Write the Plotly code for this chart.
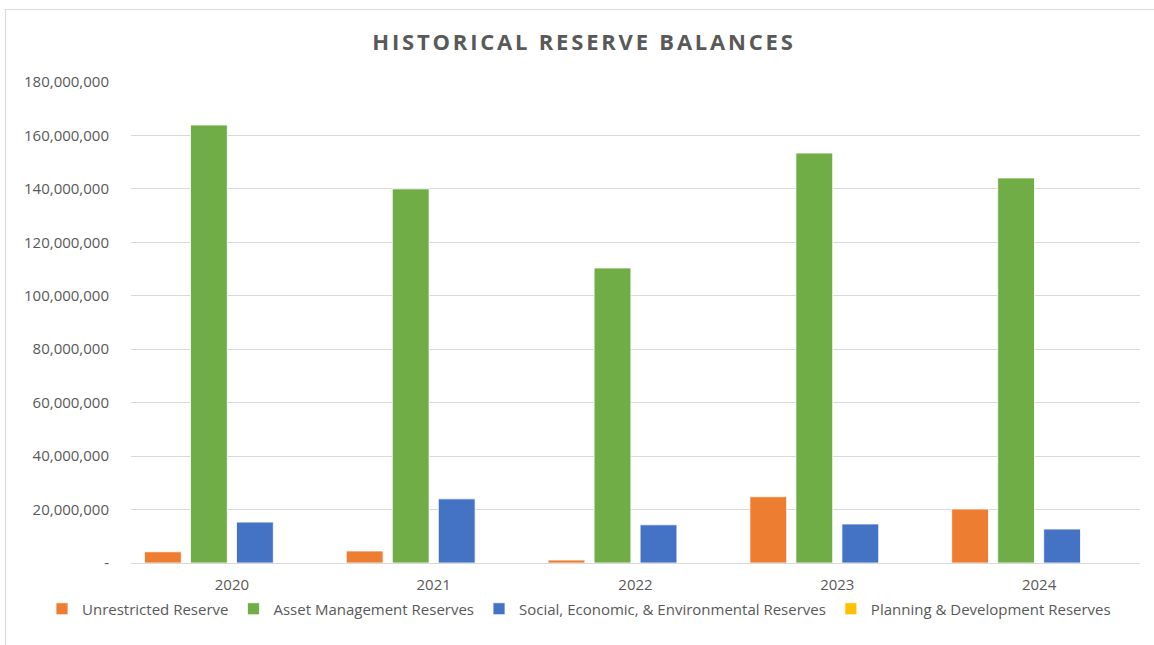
import plotly.graph_objects as go

years = ["2020", "2021", "2022", "2023", "2024"]
unrestricted = [4.2e6, 4.5e6, 1.1e6, 24.8e6, 20.2e6]
asset_mgmt = [163.9e6, 140.0e6, 110.4e6, 153.4e6, 144.1e6]
social_env = [15.3e6, 24.0e6, 14.3e6, 14.6e6, 12.7e6]
planning_dev = [0, 0, 0, 0, 0]

series_names = ["Unrestricted Reserve", "Asset Management Reserves",
                "Social, Economic, & Environmental Reserves", "Planning & Development Reserves"]
series_values = [unrestricted, asset_mgmt, social_env, planning_dev]
series_colors = ["#ED7D31", "#70AD47", "#4472C4", "#FFC000"]

tick_vals = [0, 20e6, 40e6, 60e6, 80e6, 100e6, 120e6, 140e6, 160e6, 180e6]
tick_text = ["-"] + [f"{int(v):,}" for v in tick_vals[1:]]

fig = go.Figure()
for name, vals, col in zip(series_names, series_values, series_colors):
    fig.add_trace(go.Bar(
        x=years, y=vals, name=name,
        marker=dict(color=col, line=dict(color="white", width=0.8)),
    ))

font_family = "Open Sans, Lato, sans-serif"
W, H = 1154, 645
L, R, T, B = 131, 14, 82, 82
pw, ph = W - L - R, H - T - B

def px_to_paper_x(px):
    return (px - L) / pw

def px_to_paper_y(py):
    return (H - B - py) / ph

fig.update_layout(
    width=W, height=H,
    margin=dict(l=L, r=R, t=T, b=B, pad=0),
    paper_bgcolor="white", plot_bgcolor="white",
    barmode="group", bargap=0.088, bargroupgap=0.2,
    title=dict(
        text="<b>HISTORICAL RESERVE BALANCES</b>",
        x=px_to_paper_x(584), xref="paper", xanchor="center",
        y=1 - 42 / H, yanchor="middle",
        font=dict(family=font_family, size=22, color="#595959"),
    ),
    font=dict(family=font_family, size=15, color="#595959"),
    xaxis=dict(
        showgrid=False, showline=True, linecolor="#D9D9D9", linewidth=1.3,
        ticks="", ticklabelstandoff=8,
        tickfont=dict(size=15, color="#595959"),
    ),
    yaxis=dict(
        range=[0, 180e6], tickvals=tick_vals, ticktext=tick_text,
        showgrid=True, gridcolor="#D9D9D9", gridwidth=1,
        zeroline=False, showline=False, ticks="",
        ticklabelstandoff=21,
        tickfont=dict(size=15, color="#595959"),
    ),
    legend=dict(
        orientation="h", x=px_to_paper_x(42), xanchor="left",
        y=px_to_paper_y(609), yanchor="middle",
        font=dict(size=15, color="#595959"),
        itemwidth=30, tracegroupgap=0,
        bgcolor="rgba(0,0,0,0)",
    ),
    showlegend=True,
    shapes=[
        dict(type="line", xref="paper", yref="paper",
             x0=px_to_paper_x(5.5), x1=px_to_paper_x(5.5),
             y0=px_to_paper_y(645), y1=px_to_paper_y(9.5),
             line=dict(color="#D9D9D9", width=1.2)),
        dict(type="line", xref="paper", yref="paper",
             x0=px_to_paper_x(5.5), x1=px_to_paper_x(1154),
             y0=px_to_paper_y(9.5), y1=px_to_paper_y(9.5),
             line=dict(color="#D9D9D9", width=1.2)),
    ],
)

post_js = (
    "document.body.style.margin='0';"
    "var t=document.querySelector('.gtitle');"
    "if(t){t.style.letterSpacing='2.8px';}"
)
fig.write_html("out.html", post_script=post_js, config={"displayModeBar": False})
